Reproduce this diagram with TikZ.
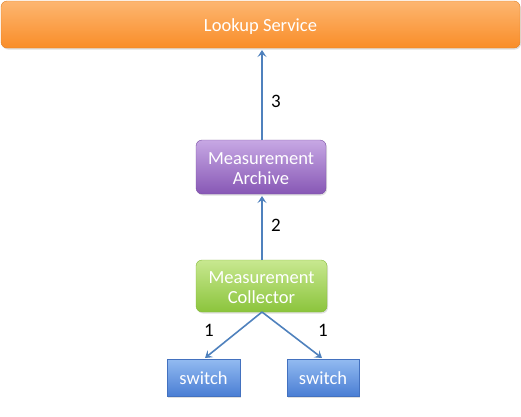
\documentclass[tikz,border=0pt]{standalone}
\usepackage{fontspec}
\setmainfont{Carlito}
\usetikzlibrary{arrows.meta,shadows}
\definecolor{orT}{HTML}{FDB671}
\definecolor{orB}{HTML}{F98D28}
\definecolor{puT}{HTML}{C7A8E4}
\definecolor{puB}{HTML}{8757B5}
\definecolor{grT}{HTML}{C8E890}
\definecolor{grB}{HTML}{8BC43C}
\definecolor{blT}{HTML}{93BBF1}
\definecolor{blB}{HTML}{4A7ED4}
\definecolor{arr}{HTML}{4F81BD}
\newcommand\boxtxt[1]{\raisebox{-3pt}[\height][\depth]{\begin{tabular}{@{}c@{}}#1\end{tabular}}}
\tikzset{
  box/.style={rounded corners=6pt, text=white, font=\fontsize{18.5}{20}\selectfont,
    inner sep=0pt, drop shadow={opacity=0.25, shadow xshift=1pt, shadow yshift=-1.5pt}},
  conn/.style={draw=arr, line width=1.6pt, -{Stealth[length=7pt,width=9pt,inset=3pt]}},
  lbl/.style={font=\fontsize{19}{21}\selectfont, text=black}
}
\begin{document}
\begin{tikzpicture}[x=1pt,y=-1pt]
\useasboundingbox (0,0) rectangle (521,416);
\node[box, top color=orT, bottom color=orB, draw=orB!90!black, minimum width=519pt, minimum height=47pt] (ls) at (260.5,24.5) {\boxtxt{Lookup Service}};
\node[box, top color=puT, bottom color=puB, draw=puB!90!black, minimum width=130pt, minimum height=54pt] (ma) at (261,167) {\boxtxt{Measurement\\Archive}};
\node[box, top color=grT, bottom color=grB, draw=grB!95!black, minimum width=131pt, minimum height=52pt] (mc) at (261.5,286) {\boxtxt{Measurement\\Collector}};
\node[box, rounded corners=0pt, top color=blT, bottom color=blB, draw=blB!90!black, minimum width=73pt, minimum height=37pt] (s1) at (203.5,377.5) {\boxtxt{switch}};
\node[box, rounded corners=0pt, top color=blT, bottom color=blB, draw=blB!90!black, minimum width=72pt, minimum height=37pt] (s2) at (323,377.5) {\boxtxt{switch}};
\coordinate (mcb) at (262,312);
\draw[conn] (mcb) -- (205,358);
\draw[conn] (mcb) -- (322,358);
\draw[conn] (262,260) -- (262,196);
\draw[conn] (262,140) -- (262,50);
\node[lbl] (l3) at (276,101) {3};
\node[lbl] (l2) at (276,225) {2};
\node[lbl] (l1a) at (209,330) {1};
\node[lbl] (l1b) at (323,330) {1};
\end{tikzpicture}
\end{document}
